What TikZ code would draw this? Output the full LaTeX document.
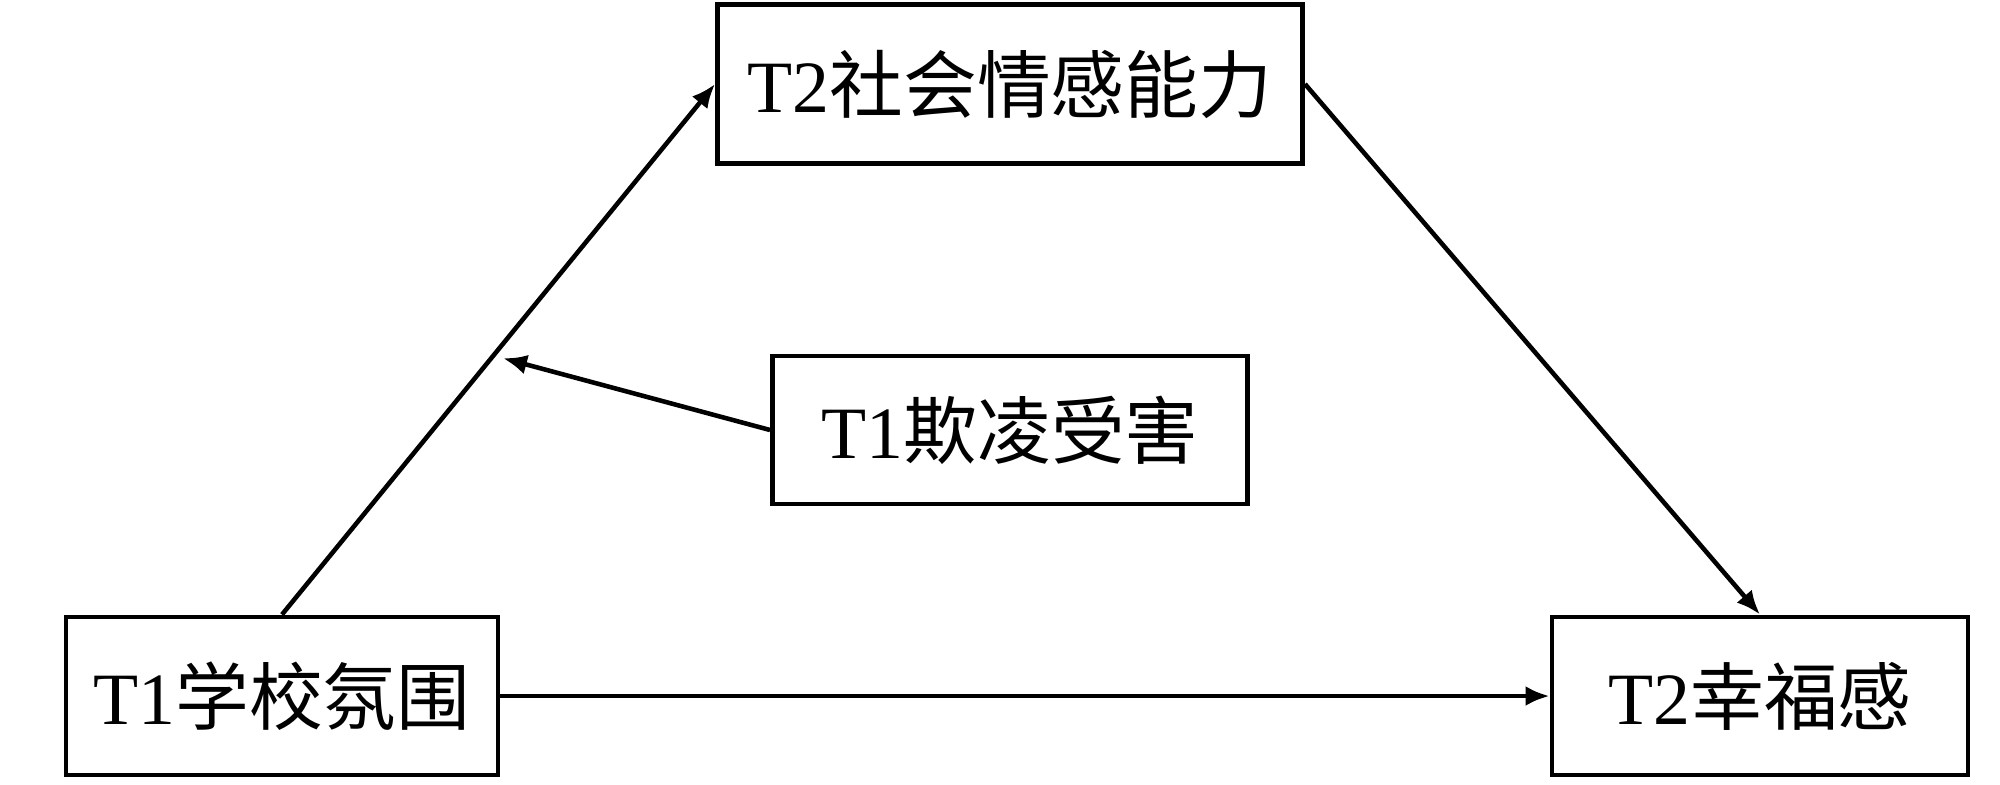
\documentclass[tikz,border=0pt]{standalone}
\usepackage{fontspec}
\setmainfont{Liberation Serif}
\newfontfamily\cjk{Noto Sans CJK SC}
\usetikzlibrary{arrows.meta}
\begin{document}
\begin{tikzpicture}[
  box/.style={draw=black, line width=1.4pt, fill=white, inner sep=0pt,
    font=\fontsize{21pt}{25pt}\selectfont, align=center},
  arr/.style={line width=1.3pt, -{Latex[length=2.4mm,width=2mm]}}
]
\useasboundingbox (0,0) rectangle (20,7.84);
\node[box, minimum width=4.32cm, minimum height=1.58cm] (A) at (2.82,0.88) {T1{\cjk 学校氛围}};
\node[box, minimum width=4.16cm, minimum height=1.58cm] (B) at (17.60,0.88) {T2{\cjk 幸福感}};
\node[box, minimum width=5.85cm, minimum height=1.59cm] (C) at (10.10,7.00) {T2{\cjk 社会情感能力}};
\node[box, minimum width=4.75cm, minimum height=1.48cm] (D) at (10.10,3.54) {T1{\cjk 欺凌受害}};
\draw[arr] (A.north) -- coordinate[pos=0.488] (m) (C.west);
\draw[arr] (C.east) -- (B.north);
\draw[arr] (A.east) -- (B.west);
\draw[arr, shorten >=0.1cm] (D.west) -- (m);
\end{tikzpicture}
\end{document}
